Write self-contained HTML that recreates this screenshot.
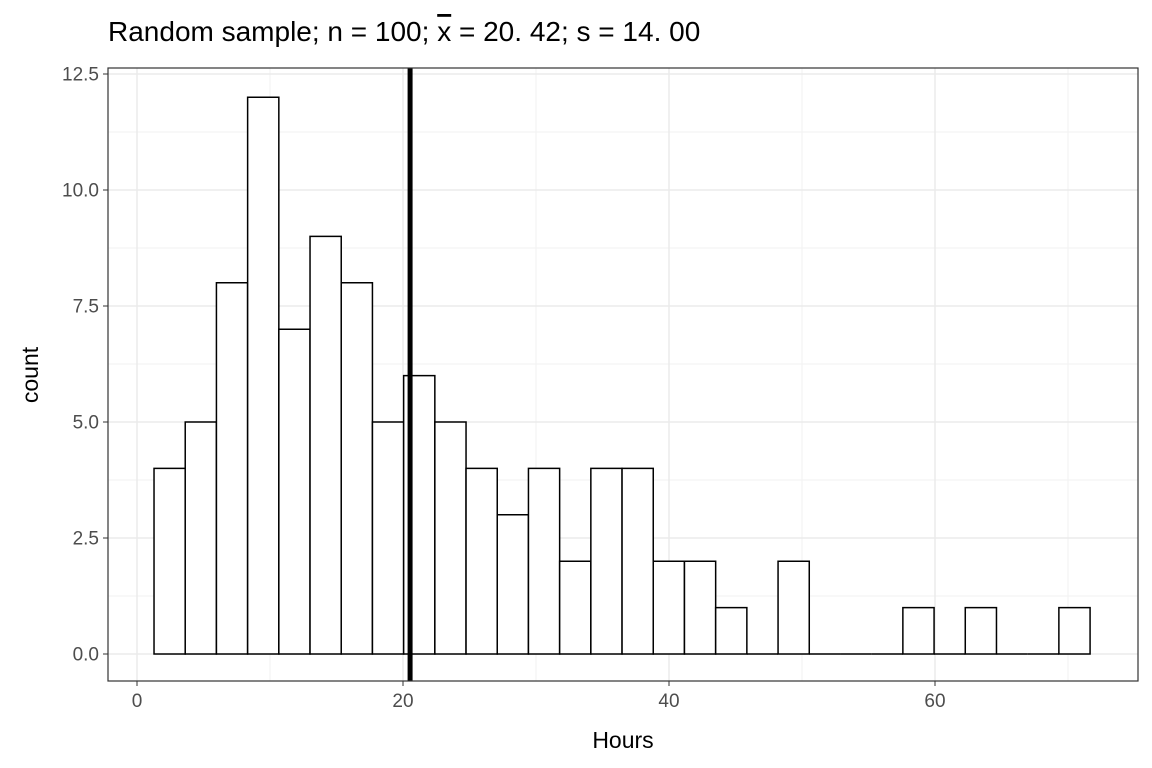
<!DOCTYPE html>
<html><head><meta charset="utf-8"><style>
body{margin:0;background:#fff;}
svg{display:block;font-family:"Liberation Sans",Arial,sans-serif;}
</style></head><body>
<svg id="chart" width="1152" height="768" viewBox="0 0 1152 768">
<text x="108" y="41" font-size="28" fill="#000">Random sample; n = 100; <tspan text-decoration="overline">x</tspan> = 20. 42; s = 14. 00</text>
<g id="grid"></g>
<g id="bars"></g>
<g id="axes"></g>
<text x="623" y="748" font-size="23" text-anchor="middle">Hours</text>
<text transform="translate(38,375) rotate(-90)" font-size="23" text-anchor="middle">count</text>
</svg>
<script>
const binStart = 1.28;
const binWidth = 2.346;
const counts = [4,5,8,12,7,9,8,5,6,5,4,3,4,2,4,4,2,2,1,0,2,0,0,0,1,0,1,0,0,1];
const meanValue = 20.42;
const xTicks = [0,20,40,60];
const xMinor = [10,30,50,70];
const yTicks = [0,2.5,5,7.5,10,12.5];
const yTickLabels = ["0.0","2.5","5.0","7.5","10.0","12.5"];
const yMinor = [1.25,3.75,6.25,8.75,11.25];

const L=108,R=1138,T=68,B=681;
const x=v=>137+v*13.3;
const y=v=>654-v*46.4;
const NS="http://www.w3.org/2000/svg";
function mk(tag,attrs,parent){const e=document.createElementNS(NS,tag);for(const k in attrs)e.setAttribute(k,attrs[k]);parent.appendChild(e);return e;}
const grid=document.getElementById('grid'),bars=document.getElementById('bars'),axes=document.getElementById('axes');
mk('rect',{x:L,y:T,width:R-L,height:B-T,fill:'#fff'},grid);
yMinor.forEach(v=>{const l=mk('line',{x1:L,x2:R,y1:y(v),y2:y(v),stroke:'#f2f2f2','stroke-width':1},grid);

});
xMinor.forEach(v=>{const l=mk('line',{x1:x(v),x2:x(v),y1:T,y2:B,stroke:'#f2f2f2','stroke-width':1},grid);

});
yTicks.forEach((v,i)=>{const l=mk('line',{x1:L,x2:R,y1:y(v),y2:y(v),stroke:'#ebebeb','stroke-width':1.5},grid);


mk('line',{x1:L-5,x2:L,y1:y(v),y2:y(v),stroke:'#333','stroke-width':1},axes);
const t=mk('text',{x:L-9,y:y(v)+6.5,'font-size':19,fill:'#4d4d4d','text-anchor':'end'},axes);
t.textContent=yTickLabels[i];

});
xTicks.forEach(v=>{const l=mk('line',{x1:x(v),x2:x(v),y1:T,y2:B,stroke:'#ebebeb','stroke-width':1.5},grid);


mk('line',{x1:x(v),x2:x(v),y1:B,y2:B+5,stroke:'#333','stroke-width':1},axes);
const t=mk('text',{x:x(v),y:B+26,'font-size':19,fill:'#4d4d4d','text-anchor':'middle'},axes);
t.textContent=v;

});
counts.forEach((c,i)=>{const x0=x(binStart+i*binWidth),x1=x(binStart+(i+1)*binWidth);
const d=`M${x0},${y(0)} L${x0},${y(c)} L${x1},${y(c)} L${x1},${y(0)} Z`;
const r=mk('path',{d:d,fill:'#fff',stroke:'#000','stroke-width':1.5},bars);

});
const m=mk('line',{x1:x(meanValue)+1.5,x2:x(meanValue)+1.5,y1:T,y2:B,stroke:'#000','stroke-width':5},bars);


const f=mk('rect',{x:L,y:T,width:R-L,height:B-T,fill:'none',stroke:'#333','stroke-width':1.2},axes);


</script>
</body></html>
